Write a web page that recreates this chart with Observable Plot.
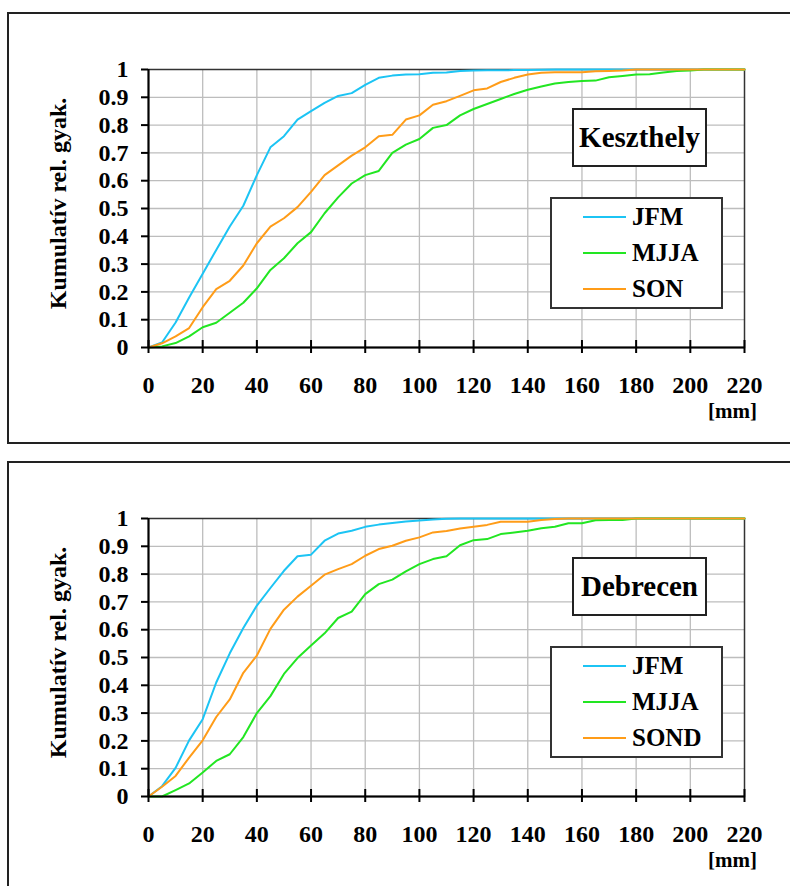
<!DOCTYPE html>
<html>
<head>
<meta charset="utf-8">
<script src="https://cdn.jsdelivr.net/npm/d3@7"></script>
<script src="https://cdn.jsdelivr.net/npm/@observablehq/plot@0.6"></script>
<style>
  html, body { margin: 0; padding: 0; background: #fff; overflow: hidden; }
  #page { position: relative; width: 790px; height: 886px; overflow: hidden;
          font-family: "Liberation Serif", "Times New Roman", serif; font-weight: bold; color: #000; }
  .panel { position: absolute; left: 0; width: 790px; height: 449px; }
  .frame { position: absolute; left: 7px; top: 12px; width: 830px; height: 432px;
           border: 2px solid #222; box-sizing: border-box; }
  .panel svg { position: absolute; left: 0; top: 0; }
  .station { position: absolute; left: 572px; top: 108px; width: 135px; height: 59px;
             border: 2px solid #222; box-sizing: border-box; background: #fff;
             font-size: 29px; display: flex; align-items: center; justify-content: center; }
  .legend { position: absolute; left: 550px; top: 197px; width: 173px; height: 112px;
            border: 2px solid #333; box-sizing: border-box; background: #fff; }
  .swatch { position: absolute; left: 583px; width: 43px; height: 0; border-top: 2px solid; }
  .label { position: absolute; left: 632px; font-size: 25px; line-height: 30px; height: 30px; }
</style>
</head>
<body>
<div id="page"></div>
<script>
// Precipitation thresholds (mm) at which the cumulative relative frequencies are given
const mm = [0, 5, 10, 15, 20, 25, 30, 35, 40, 45, 50, 55, 60, 65, 70, 75, 80, 85, 90, 95,
            100, 105, 110, 115, 120, 125, 130, 135, 140, 145, 150, 155, 160, 165, 170, 175,
            180, 185, 190, 195, 200, 205, 210, 215, 220];

// Keszthely
const keszthelyNames = ["JFM", "MJJA", "SON"];
const keszthelyJFM = [0, 0.018, 0.09, 0.18, 0.265, 0.351, 0.435, 0.51, 0.62, 0.72, 0.76, 0.82, 0.85, 0.88, 0.905,
                      0.915, 0.945, 0.97, 0.978, 0.982, 0.983, 0.988, 0.989, 0.995, 0.996, 0.997, 0.997, 0.998,
                      0.998, 0.999, 1, 1, 1, 1, 1, 1, 1, 1, 1, 1, 1, 1, 1, 1, 1];
const keszthelyMJJA = [0, 0.004, 0.016, 0.04, 0.073, 0.089, 0.125, 0.161, 0.213, 0.279, 0.321, 0.375, 0.415,
                       0.483, 0.54, 0.59, 0.62, 0.635, 0.70, 0.73, 0.75, 0.79, 0.80, 0.835, 0.858, 0.876, 0.894,
                       0.912, 0.927, 0.939, 0.95, 0.955, 0.959, 0.96, 0.972, 0.977, 0.982, 0.983, 0.989, 0.995,
                       0.996, 1, 1, 1, 1];
const keszthelySON = [0, 0.015, 0.04, 0.07, 0.145, 0.21, 0.24, 0.295, 0.375, 0.435, 0.465, 0.505, 0.56, 0.62,
                      0.655, 0.69, 0.72, 0.76, 0.765, 0.82, 0.835, 0.873, 0.886, 0.905, 0.925, 0.932, 0.955, 0.97,
                      0.982, 0.988, 0.99, 0.99, 0.99, 0.994, 0.995, 0.996, 1, 1, 1, 1, 1, 1, 1, 1, 1];

// Debrecen
const debrecenNames = ["JFM", "MJJA", "SOND"];
const debrecenJFM = [0, 0.037, 0.103, 0.202, 0.278, 0.41, 0.515, 0.606, 0.687, 0.75, 0.812, 0.864, 0.87, 0.92,
                     0.946, 0.956, 0.97, 0.978, 0.984, 0.989, 0.993, 0.996, 0.999, 1, 1, 1, 1, 1, 1, 1, 1, 1, 1,
                     1, 1, 1, 1, 1, 1, 1, 1, 1, 1, 1, 1];
const debrecenMJJA = [0, 0, 0.023, 0.047, 0.086, 0.128, 0.152, 0.214, 0.30, 0.361, 0.441, 0.498, 0.543, 0.587,
                      0.642, 0.665, 0.728, 0.764, 0.78, 0.81, 0.836, 0.854, 0.864, 0.904, 0.922, 0.926, 0.944, 0.95,
                      0.956, 0.965, 0.97, 0.983, 0.983, 0.994, 0.995, 0.995, 1, 1, 1, 1, 1, 1, 1, 1, 1];
const debrecenSOND = [0, 0.035, 0.074, 0.14, 0.202, 0.286, 0.349, 0.445, 0.507, 0.603, 0.672, 0.719, 0.758, 0.798,
                      0.818, 0.836, 0.866, 0.89, 0.902, 0.92, 0.932, 0.95, 0.955, 0.964, 0.97, 0.977, 0.988, 0.988,
                      0.988, 0.995, 0.998, 1, 1, 1, 1, 1, 1, 1, 1, 1, 1, 1, 1, 1, 1];

// Axis ticks and labels
const xTicks = [0, 20, 40, 60, 80, 100, 120, 140, 160, 180, 200, 220];
const xTickLabels = ["0", "20", "40", "60", "80", "100", "120", "140", "160", "180", "200", "220"];
const yTicks = [0, 0.1, 0.2, 0.3, 0.4, 0.5, 0.6, 0.7, 0.8, 0.9, 1];
const yTickLabels = ["0", "0.1", "0.2", "0.3", "0.4", "0.5", "0.6", "0.7", "0.8", "0.9", "1"];
const yTitle = "Kumulatív rel. gyak.";
const xUnit = "[mm]";
const seriesColors = ["#1cc4f4", "#22e622", "#ff9c18"];

const font = '"Liberation Serif", "Times New Roman", serif';

function drawPanel(top, station, names, series) {
  const page = document.getElementById("page");
  const panel = document.createElement("div");
  panel.className = "panel";
  panel.style.top = top + "px";
  page.appendChild(panel);

  // outer border of the panel (open on the right)
  const frame = document.createElement("div");
  frame.className = "frame";
  panel.appendChild(frame);

  const rows = [];
  names.forEach((name, k) => series[k].forEach((v, i) => rows.push({mm: mm[i], f: v, s: name})));

  const chart = Plot.plot({
    width: 790,
    height: 449,
    marginLeft: 148,
    marginRight: 46,
    marginTop: 69,
    marginBottom: 102,
    style: `font-family: ${font}; font-size: 24px; font-weight: bold; background: none; overflow: visible; color: #000;`,
    x: {domain: [0, 220], label: null},
    y: {domain: [0, 1], label: null},
    color: {domain: names, range: seriesColors},
    marks: [
      Plot.gridX(xTicks.slice(1, -1), {stroke: "#bdbdbd", strokeOpacity: 1, strokeWidth: 1.3}),
      Plot.gridY(yTicks.slice(1, -1), {stroke: "#bdbdbd", strokeOpacity: 1, strokeWidth: 1.3}),
      Plot.frame({stroke: "#333", strokeWidth: 1.5}),
      Plot.line(rows, {x: "mm", y: "f", z: "s", stroke: "s", strokeWidth: 2}),
      Plot.ruleX([0], {stroke: "#000", strokeWidth: 2}),
      Plot.ruleY([0], {stroke: "#000", strokeWidth: 2}),
      Plot.axisY(yTicks, {label: null, tickSize: 7, tickPadding: 13, strokeWidth: 2, fontSize: 24,
                          tickFormat: d => yTickLabels[yTicks.indexOf(d)]}),
      Plot.axisX(xTicks, {label: null, tickSize: 13, dy: -7, tickPadding: 22, strokeWidth: 2, fontSize: 24,
                          tickFormat: d => xTickLabels[xTicks.indexOf(d)]}),
      Plot.text([yTitle], {frameAnchor: "left", textAnchor: "middle", lineAnchor: "middle",
                           dx: -90, dy: -5, rotate: -90, fontSize: 24, fill: "#000"}),
      Plot.text([xUnit], {frameAnchor: "bottom-right", textAnchor: "middle", lineAnchor: "middle",
                          dx: -12, dy: 64, fontSize: 21, fill: "#000"})
    ]
  });
  panel.appendChild(chart);

  // station name box
  const box = document.createElement("div");
  box.className = "station";
  box.textContent = station;
  panel.appendChild(box);

  // series legend
  const legend = document.createElement("div");
  legend.className = "legend";
  panel.appendChild(legend);

  names.forEach((name, k) => {
    const cy = 217 + k * 36;
    const sw = document.createElement("div");
    sw.className = "swatch";
    sw.style.top = (cy - 1) + "px";
    sw.style.borderColor = seriesColors[k];
    panel.appendChild(sw);
    const lab = document.createElement("div");
    lab.className = "label";
    lab.style.top = (cy - 15) + "px";
    lab.textContent = name;
    panel.appendChild(lab);
  });
}

drawPanel(0, "Keszthely", keszthelyNames, [keszthelyJFM, keszthelyMJJA, keszthelySON]);
drawPanel(449, "Debrecen", debrecenNames, [debrecenJFM, debrecenMJJA, debrecenSOND]);
</script>
</body>
</html>
